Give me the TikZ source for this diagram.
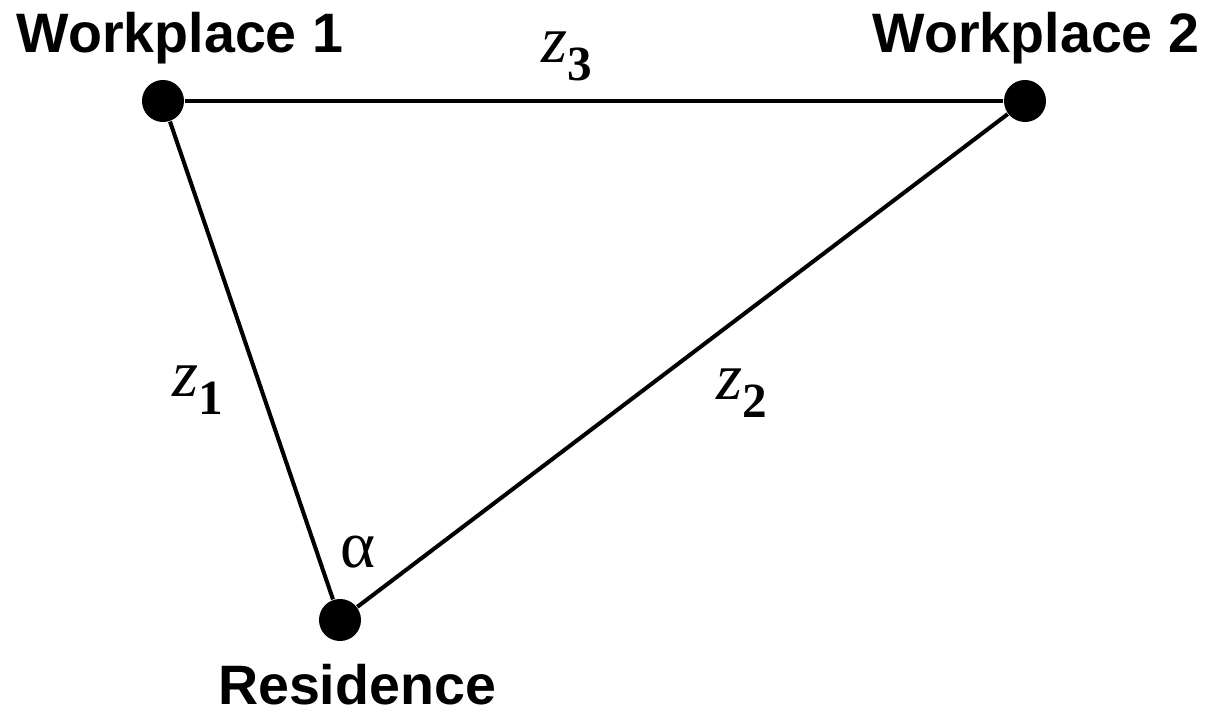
\documentclass[tikz,border=0pt]{standalone}
\usepackage{fontspec}
\setmainfont{Liberation Serif}
\newfontfamily\labfont{Liberation Sans}
\newcommand\zlab[1]{{\fontsize{19}{19}\selectfont\itshape z}\raisebox{-5pt}{\fontsize{14}{14}\selectfont\bfseries #1}}
\begin{document}
\begin{tikzpicture}[x=0.01cm,y=-0.01cm,
  dot/.style={circle,fill=black,inner sep=0pt,minimum size=0.42cm},
  lab/.style={font=\labfont\bfseries\fontsize{15.8}{16}\selectfont,inner sep=0pt,anchor=base},
  mlab/.style={inner sep=0pt,anchor=base west},
  edge/.style={line width=1.15pt}]
\useasboundingbox (0,0) rectangle (1209,713);
\node[dot] (w1) at (163,101) {};
\node[dot] (w2) at (1025,101) {};
\node[dot] (r) at (340,620) {};
\draw[edge] (w1) -- (w2);
\draw[edge] (w1) -- (r);
\draw[edge] (w2) -- (r);
\node[lab] (t1) at (180,53) {Workplace 1};
\node[lab] (t2) at (1036,53) {Workplace 2};
\node[lab] (t3) at (357,705) {Residence};
\node[mlab] (z3) at (541,63) {\zlab{3}};
\node[mlab] (z1) at (172,397) {\zlab{1}};
\node[mlab] (z2) at (716,400) {\zlab{2}};
\node[mlab] (al) at (340,568) {\fontsize{19}{19}\selectfont α};
\end{tikzpicture}
\end{document}
